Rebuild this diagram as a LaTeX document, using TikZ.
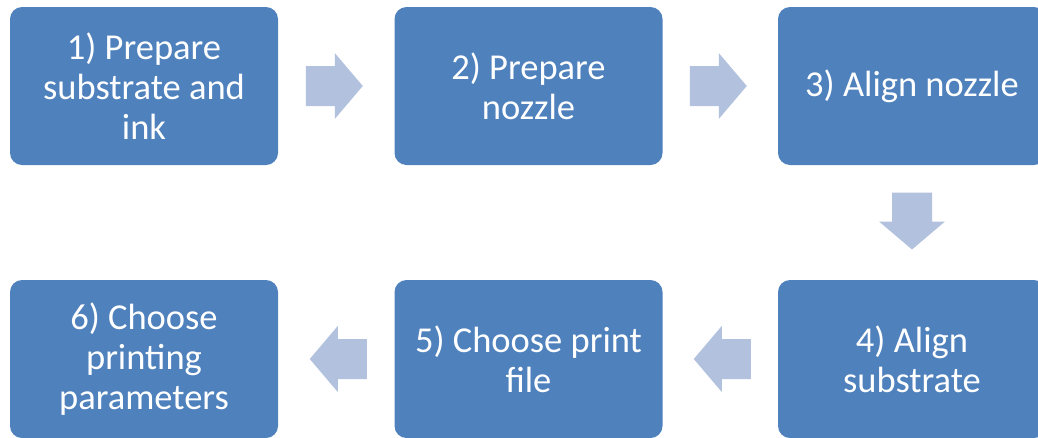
\documentclass[tikz,border=0pt]{standalone}
\usepackage{fontspec}
\setmainfont{Carlito}
\usetikzlibrary{calc}
\definecolor{boxblue}{RGB}{79,129,189}
\definecolor{arrowblue}{RGB}{178,194,222}
\tikzset{
  stepbox/.style={rectangle, rounded corners=12pt, fill=boxblue, draw=none,
    minimum width=268pt, minimum height=158pt, text=white, align=center,
    font=\fontsize{36.5pt}{40pt}\selectfont},
  blockarrow/.style={fill=arrowblue, draw=none}
}
\newcommand{\blkarrow}[2]{% center, rotation
  \fill[blockarrow, shift={(#1)}, rotate=#2]
    (-28.5,-20) -- (0.5,-20) -- (0.5,-33) -- (28.5,0) -- (0.5,33) -- (0.5,20) -- (-28.5,20) -- cycle;}
\begin{document}
\begin{tikzpicture}[x=1pt,y=-1pt]
\useasboundingbox (0,0) rectangle (1038,437);
\clip (0,0) rectangle (1038,437);
\node[stepbox] (s1) at (144,86) {1) Prepare\\substrate and\\ink};
\node[stepbox] (s2) at (528.5,86) {2) Prepare\\nozzle};
\node[stepbox] (s3) at (912,86) {3) Align nozzle};
\node[stepbox] (s4) at (912,359) {4) Align\\substrate};
\node[stepbox] (s5) at (528.5,359) {5) Choose print\\file};
\node[stepbox] (s6) at (144,359) {6) Choose\\printing\\parameters};
\coordinate (m12) at ($(s1.east)!0.5!(s2.west)+(-2,0)$);
\coordinate (m23) at ($(s2.east)!0.5!(s3.west)+(-2,0)$);
\coordinate (m34) at ($(s3.south)!0.5!(s4.north)+(0,-1.5)$);
\coordinate (m45) at ($(s5.east)!0.5!(s4.west)+(2,0)$);
\coordinate (m56) at ($(s6.east)!0.5!(s5.west)+(2,0)$);
\blkarrow{m12}{0}
\blkarrow{m23}{0}
\blkarrow{m34}{-90}
\blkarrow{m45}{180}
\blkarrow{m56}{180}
\end{tikzpicture}
\end{document}
